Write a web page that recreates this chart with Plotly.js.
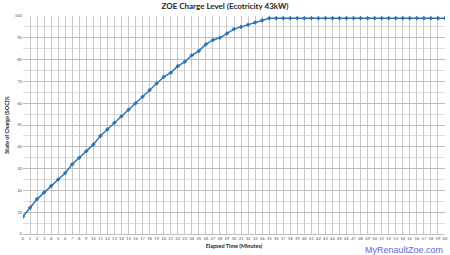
<!DOCTYPE html>
<html><head><meta charset="utf-8">
<script src="https://cdn.plot.ly/plotly-3.0.1.min.js"></script>
<style>html,body{margin:0;padding:0;background:#fff}#c{width:450px;height:255px}</style>
</head><body><div id="c"></div>
<script>
const minutes = [0,1,2,3,4,5,6,7,8,9,10,11,12,13,14,15,16,17,18,19,20,21,22,23,24,25,26,27,28,29,30,31,32,33,34,35,36,37,38,39,40,41,42,43,44,45,46,47,48,49,50,51,52,53,54,55,56,57,58,59,60];
const soc = [8,12,16,19,22,25,28,32,35,38,41,45,48,51,54,57,60,63,66,69,72,74,77,79,82,84,87,89,90,92,94,95,96,97,98,99,99,99,99,99,99,99,99,99,99,99,99,99,99,99,99,99,99,99,99,99,99,99,99,99,99];
const yTicks = [0,10,20,30,40,50,60,70,80,90,100];

Plotly.newPlot('c', [{
  x: minutes, y: soc, type: 'scatter', mode: 'lines+markers',
  line: {color: '#2e75b6', width: 1.5},
  marker: {color: '#2e75b6', size: 3.5, symbol: 'diamond'},
  hoverinfo: 'skip'
}], {
  width: 450, height: 255,
  margin: {l: 23, r: 5, t: 16, b: 21},
  paper_bgcolor: '#fff', plot_bgcolor: '#fff',
  font: {family: 'Lato, "Open Sans", sans-serif', color: '#404040'},
  title: {text: '<b>ZOE Charge Level (Ecotricity 43kW)</b>', x: 0.5, xanchor: 'center', y: 0.985, yanchor: 'top', font: {size: 8, color: '#262626'}},
  xaxis: {
    range: [0, 60], tickmode: 'array', tickvals: minutes, ticktext: minutes.map(String), tickangle: 0,
    tickfont: {size: 4.2, color: '#595959'}, ticks: '', showgrid: true, gridcolor: '#c8c8c8', gridwidth: 1,
    zeroline: false, showline: true, linecolor: '#bfbfbf', ticklen: 0,
    title: {text: '<b>Elapsed Time (Minutes)</b>', font: {size: 5.5, color: '#262626'}, standoff: 4}
  },
  yaxis: {
    range: [0, 100], tickmode: 'array', tickvals: yTicks, ticktext: yTicks.map(String),
    tickfont: {size: 4.2, color: '#595959'}, ticks: '', showgrid: true, gridcolor: '#bdbdbd', gridwidth: 1,
    minor: {dtick: 5, showgrid: true, gridcolor: '#dedede', gridwidth: 1},
    zeroline: false, showline: false,
    title: {text: '<b>State of Charge (SOC)%</b>', font: {size: 5.5, color: '#262626'}, standoff: 4}
  },
  annotations: [{
    text: 'MyRenaultZoe.com', xref: 'paper', yref: 'paper', x: 1, y: 0, xanchor: 'right', yanchor: 'top',
    yshift: -9, showarrow: false, font: {size: 9, color: '#5b6bd6', family: 'Liberation Sans, Arial, sans-serif'}
  }],
  showlegend: false
}, {displayModeBar: false, staticPlot: true});
</script></body></html>
